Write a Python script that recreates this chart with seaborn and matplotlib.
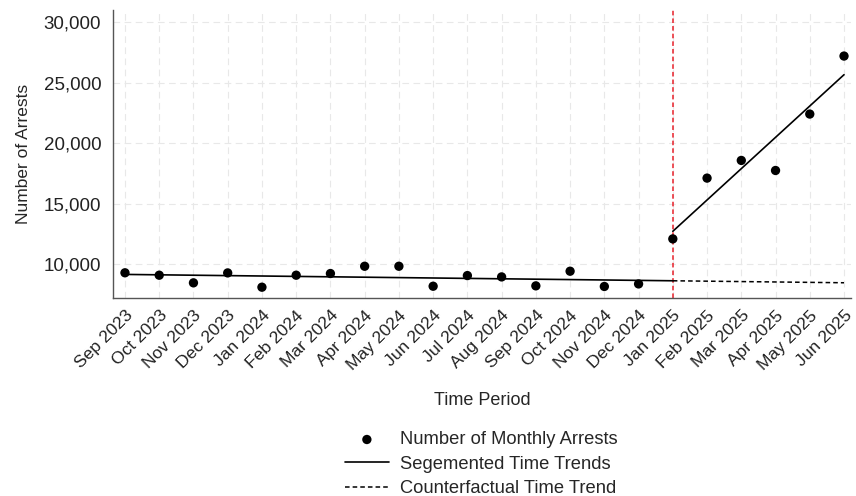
import numpy as np
import pandas as pd
import matplotlib
matplotlib.use("Agg")
import matplotlib.pyplot as plt
import seaborn as sns
from matplotlib.ticker import FuncFormatter

# Monthly data
months = ["Sep 2023", "Oct 2023", "Nov 2023", "Dec 2023", "Jan 2024", "Feb 2024",
          "Mar 2024", "Apr 2024", "May 2024", "Jun 2024", "Jul 2024", "Aug 2024",
          "Sep 2024", "Oct 2024", "Nov 2024", "Dec 2024", "Jan 2025", "Feb 2025",
          "Mar 2025", "Apr 2025", "May 2025", "Jun 2025"]
arrests = [9290, 9090, 8460, 9280, 8100, 9090, 9230, 9830, 9830, 8180, 9060,
           8950, 8210, 9420, 8160, 8370, 12090, 17110, 18570, 17740, 22400, 27190]
intervention = "Jan 2025"

sns.set_style("white")
plt.rcParams["font.family"] = ["Liberation Sans", "DejaVu Sans"]

df = pd.DataFrame({"month": months, "arrests": arrests})
df["t"] = np.arange(len(df))
cut = months.index(intervention)

# Segmented trends (separate linear fits before / after the intervention)
pre = df[df["t"] < cut]
post = df[df["t"] >= cut]
b_pre = np.polyfit(pre["t"], pre["arrests"], 1)
b_post = np.polyfit(post["t"], post["arrests"], 1)
pre_line = pd.DataFrame({"t": [0, cut]})
pre_line["y"] = np.polyval(b_pre, pre_line["t"])
post_line = pd.DataFrame({"t": [cut, len(df) - 1]})
post_line["y"] = np.polyval(b_post, post_line["t"])
cf_line = pd.DataFrame({"t": [cut, len(df) - 1]})
cf_line["y"] = np.polyval(b_pre, cf_line["t"])

fig = plt.figure(figsize=(8.56, 4.96), dpi=100)
ax = fig.add_axes([0.132, 0.399, 0.862, 0.581])

ax.axvline(cut, color="#e8202a", ls=(0, (3, 2)), lw=1.1, zorder=1)
sns.lineplot(data=pre_line, x="t", y="y", color="black", lw=1.2, ax=ax,
             label="Segemented Time Trends")
sns.lineplot(data=post_line, x="t", y="y", color="black", lw=1.2, ax=ax)
sns.lineplot(data=cf_line, x="t", y="y", color="black", lw=1.1, ax=ax,
             linestyle=(0, (3, 2)), label="Counterfactual Time Trend")
sns.scatterplot(data=df, x="t", y="arrests", color="black", s=45, ax=ax,
                edgecolor="none", label="Number of Monthly Arrests", zorder=3,
                clip_on=False)

ax.set_xlim(-0.35, 21.2)
ax.set_ylim(7200, 31000)
ax.set_yticks([10000, 15000, 20000, 25000, 30000])
ax.yaxis.set_major_formatter(FuncFormatter(lambda v, p: f"{int(v):,}"))
ax.set_xticks(df["t"])
ax.set_xticklabels(months, rotation=45, ha="right", rotation_mode="anchor")
for lab in ax.get_xticklabels():
    if lab.get_text() == intervention:
        lab.set_color("#e8202a")

ax.grid(True, color="#e8e8e8", ls=(0, (6, 4)), lw=0.8)
ax.set_axisbelow(True)
for s in ["top", "right"]:
    ax.spines[s].set_visible(False)
for s in ["left", "bottom"]:
    ax.spines[s].set_color("#555555")
    ax.spines[s].set_linewidth(1.0)
ax.tick_params(axis="both", direction="out", length=5, color="#555555",
               labelcolor="#222222")
ax.tick_params(axis="y", labelsize=13.5)
ax.tick_params(axis="x", labelsize=12.6, pad=2)

ax.set_xlabel("Time Period", fontsize=13, labelpad=14)
ax.set_ylabel("Number of Arrests", fontsize=12.5, labelpad=9)

handles, labels = ax.get_legend_handles_labels()
order = [labels.index(l) for l in ["Number of Monthly Arrests",
                                    "Segemented Time Trends",
                                    "Counterfactual Time Trend"]]
ax.legend([handles[i] for i in order], [labels[i] for i in order],
          loc="upper center", bbox_to_anchor=(0.499, -0.405), frameon=False,
          fontsize=13.2, handlelength=2.4, labelspacing=0.4, handletextpad=0.6)

fig.savefig("out.png", dpi=100)
